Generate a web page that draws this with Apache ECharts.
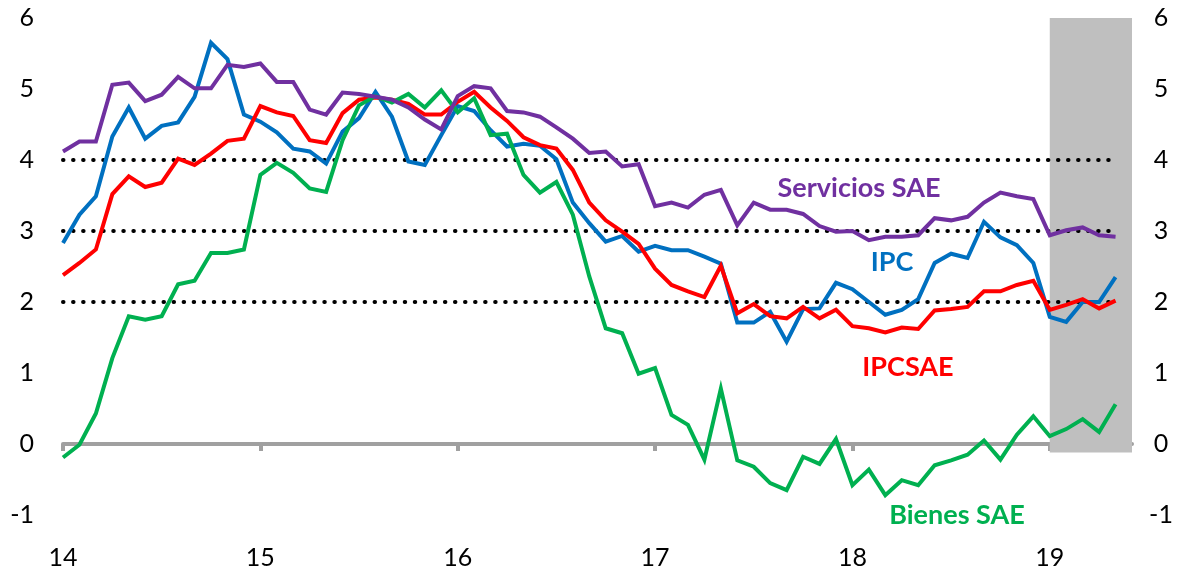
<!DOCTYPE html>
<html>
<head>
<meta charset="utf-8">
<script src="https://cdn.jsdelivr.net/npm/echarts@6/dist/echarts.min.js"></script>
<style>
  html, body { margin: 0; padding: 0; background: #fff; }
  #chart { width: 1184px; height: 570px; }
</style>
</head>
<body>
<div id="chart"></div>
<script>
// monthly, Jan 2014 .. May 2019 (index 0 = ene-14)
const servicios = [4.12, 4.26, 4.26, 5.06, 5.09, 4.83, 4.92, 5.17, 5.01, 5.01, 5.34, 5.31,
  5.36, 5.10, 5.10, 4.71, 4.64, 4.95, 4.93, 4.89, 4.85, 4.74, 4.57, 4.43,
  4.90, 5.04, 5.01, 4.69, 4.67, 4.61, 4.46, 4.30, 4.10, 4.12, 3.91, 3.94,
  3.35, 3.40, 3.33, 3.51, 3.58, 3.08, 3.40, 3.30, 3.30, 3.24, 3.07, 2.99,
  3.00, 2.87, 2.92, 2.92, 2.94, 3.18, 3.15, 3.20, 3.40, 3.54, 3.49, 3.45,
  2.94, 3.01, 3.05, 2.94, 2.92]
const ipc = [2.83, 3.23, 3.49, 4.33, 4.74, 4.30, 4.48, 4.53, 4.89, 5.65, 5.42, 4.64,
  4.54, 4.39, 4.16, 4.12, 3.95, 4.40, 4.59, 4.96, 4.61, 3.98, 3.93, 4.35,
  4.76, 4.69, 4.42, 4.19, 4.23, 4.20, 4.01, 3.40, 3.11, 2.85, 2.93, 2.71,
  2.79, 2.73, 2.73, 2.64, 2.54, 1.71, 1.71, 1.86, 1.44, 1.90, 1.91, 2.27,
  2.18, 2.00, 1.82, 1.89, 2.04, 2.55, 2.68, 2.62, 3.13, 2.91, 2.80, 2.55,
  1.79, 1.72, 2.00, 2.00, 2.35]
const ipcsae = [2.38, 2.55, 2.74, 3.52, 3.77, 3.62, 3.68, 4.02, 3.93, 4.09, 4.27, 4.30,
  4.76, 4.67, 4.62, 4.28, 4.24, 4.66, 4.85, 4.88, 4.85, 4.79, 4.64, 4.64,
  4.82, 4.96, 4.74, 4.55, 4.32, 4.21, 4.16, 3.86, 3.40, 3.15, 2.99, 2.82,
  2.47, 2.24, 2.15, 2.07, 2.51, 1.84, 1.97, 1.80, 1.77, 1.93, 1.77, 1.89,
  1.66, 1.63, 1.57, 1.64, 1.62, 1.88, 1.90, 1.93, 2.15, 2.15, 2.24, 2.30,
  1.89, 1.96, 2.04, 1.91, 2.02]
const bienes = [-0.19, -0.01, 0.43, 1.21, 1.80, 1.75, 1.80, 2.25, 2.30, 2.69, 2.69, 2.74,
  3.79, 3.96, 3.82, 3.60, 3.55, 4.28, 4.77, 4.90, 4.81, 4.93, 4.74, 4.98,
  4.67, 4.87, 4.35, 4.37, 3.79, 3.54, 3.69, 3.23, 2.36, 1.63, 1.56, 0.99,
  1.07, 0.41, 0.27, -0.22, 0.78, -0.23, -0.32, -0.55, -0.65, -0.18, -0.28, 0.07,
  -0.58, -0.36, -0.72, -0.51, -0.58, -0.30, -0.23, -0.15, 0.05, -0.22, 0.13, 0.39,
  0.11, 0.21, 0.35, 0.17, 0.56]

const yearTicks = [0, 12, 24, 36, 48, 60]
const yearLabels = ['14', '15', '16', '17', '18', '19']
const refLevels = [2, 3, 4]
const shadeFrom = 60   // ene-19 onwards
const shadeTo = 65

const FONT = 'Lato'
const last = ipc.length - 1
const pairs = arr => arr.map((v, i) => [i, v])

const chart = echarts.init(document.getElementById('chart'), null, { renderer: 'canvas' })

const lineSeries = (name, arr, color) => ({
  name: name,
  type: 'line',
  data: pairs(arr),
  symbol: 'none',
  z: 5,
  lineStyle: { color: color, width: 4, join: 'miter' }
})

const option = {
  animation: false,
  grid: { left: 63, right: 52, top: 18, bottom: 55 },
  xAxis: [
    {
      type: 'value', min: 0, max: shadeTo,
      position: 'bottom',
      axisLine: { show: false },
      axisTick: { show: false },
      splitLine: { show: false },
      axisLabel: {
        customValues: yearTicks,
        margin: 30,
        fontFamily: FONT, fontSize: 25, color: '#000',
        formatter: v => yearLabels[yearTicks.indexOf(v)]
      }
    },
    {
      type: 'value', min: 0, max: shadeTo,
      position: 'bottom',
      axisLine: { show: true, onZero: true, onZeroAxisIndex: 0, lineStyle: { color: '#a0a0a0', width: 4 } },
      axisTick: { show: true, customValues: yearTicks, length: 7, lineStyle: { color: '#a0a0a0', width: 4 } },
      axisLabel: { show: false },
      splitLine: { show: false }
    }
  ],
  yAxis: [
    {
      type: 'value', min: -1, max: 6, interval: 1, position: 'left',
      axisLine: { show: false }, axisTick: { show: false }, splitLine: { show: false },
      axisLabel: { margin: 29, fontFamily: FONT, fontSize: 25, color: '#000' }
    },
    {
      type: 'value', min: -1, max: 6, interval: 1, position: 'right',
      axisLine: { show: false }, axisTick: { show: false }, splitLine: { show: false },
      axisLabel: { margin: 29, align: 'center', fontFamily: FONT, fontSize: 25, color: '#000' }
    }
  ],
  series: [
    {
      name: 'band', type: 'line', data: [], z: 1, silent: true, clip: false,
      markArea: {
        silent: true,
        itemStyle: { color: '#bfbfbf' },
        data: [[{ coord: [shadeFrom, 6.13] }, { coord: [shadeTo, -0.12] }]]
      }
    },
    ...refLevels.map(lvl => ({
      type: 'line', data: [[0, lvl], [last, lvl]], symbol: 'none', z: 2, silent: true,
      lineStyle: { color: '#000', width: 4, type: [0.5, 9.55], cap: 'round' }
    })),
    lineSeries('IPC', ipc, '#0070C0'),
    lineSeries('IPCSAE', ipcsae, '#FF0000'),
    lineSeries('Bienes SAE', bienes, '#00B050'),
    lineSeries('Servicios SAE', servicios, '#7030A0')
  ],
  graphic: [
    { type: 'text', x: 859, y: 188, style: { text: 'Servicios SAE', fill: '#7030A0', font: 'bold 27px Lato', textAlign: 'center', textVerticalAlign: 'middle' } },
    { type: 'text', x: 892, y: 262, style: { text: 'IPC', fill: '#0070C0', font: 'bold 27px Lato', textAlign: 'center', textVerticalAlign: 'middle' } },
    { type: 'text', x: 908, y: 367, style: { text: 'IPCSAE', fill: '#FF0000', font: 'bold 27px Lato', textAlign: 'center', textVerticalAlign: 'middle' } },
    { type: 'text', x: 957, y: 515, style: { text: 'Bienes SAE', fill: '#00B050', font: 'bold 27px Lato', textAlign: 'center', textVerticalAlign: 'middle' } }
  ]
}

chart.setOption(option)
</script>
</body>
</html>
